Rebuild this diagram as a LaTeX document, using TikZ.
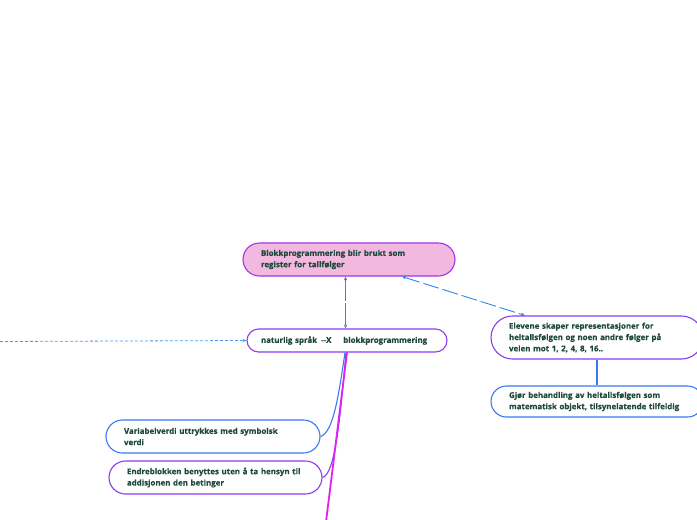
\documentclass[tikz,border=0pt]{standalone}
\usepackage{fontspec}
\setmainfont{Open Sans}[BoldFeatures={FakeBold=0.4}]
\usetikzlibrary{arrows.meta}
\definecolor{txt}{HTML}{1E4A3A}
\definecolor{pinkfill}{HTML}{F2B8E0}
\definecolor{topborder}{HTML}{A334E6}
\definecolor{purp}{HTML}{8A3CF0}
\definecolor{blu}{HTML}{3B78F2}
\definecolor{linkblue}{HTML}{2F86E8}
\definecolor{lightlink}{HTML}{4C9AEE}
\definecolor{mag}{HTML}{E020F0}
\begin{document}
\begin{tikzpicture}[x=1pt,y=-1pt,
  box/.style={draw, line width=1.1pt, rounded corners=#1, inner xsep=18pt, inner ysep=2pt,
    align=left, font=\fontsize{7.9}{11.3}\selectfont\bfseries, text=txt, fill=white},
  link/.style={linkblue, line width=0.9pt, -{Stealth[length=4pt,width=3.5pt]}}]
\useasboundingbox (0,0) rectangle (697,520);
\clip (0,0) rectangle (697,520);

\node[box=16.5pt, draw=topborder, fill=pinkfill, minimum width=212pt, minimum height=33pt, text width=176pt]
  (top) at (349,259.5) {Blokkprogrammering blir brukt som\\register for tallfølger};
\node[box=11.5pt, draw=purp, minimum width=200pt, minimum height=23pt, text width=172pt, inner xsep=12pt]
  (mid) at (347,340.5) {naturlig språk\hspace{0.5em}-{}-X\hspace{1.5em}blokkprogrammering};
\node[box=21.5pt, draw=purp, minimum width=212pt, minimum height=43pt, text width=176pt]
  (r1) at (597,337.5) {Elevene skaper representasjoner for\\heltallsfølgen og noen andre følger på\\veien mot 1, 2, 4, 8, 16..};
\node[box=15.5pt, draw=blu, minimum width=212pt, minimum height=31pt, text width=176pt]
  (r2) at (597,401.5) {Gjør behandling av heltallsfølgen som\\matematisk objekt, tilsynelatende tilfeldig};
\node[box=16.5pt, draw=blu, minimum width=214pt, minimum height=33pt, text width=178pt]
  (l1) at (213,436.5) {Variabelverdi uttrykkes med symbolsk\\verdi};
\node[box=16.5pt, draw=purp, minimum width=213pt, minimum height=33pt, text width=177pt]
  (l2) at (215.5,477.5) {Endreblokken benyttes uten å ta hensyn til\\addisjonen den betinger};

\coordinate (west) at (0,341.5);
\coordinate (down) at (326,522);

% dashed incoming arrow
\draw[link, lightlink, dash pattern=on 3pt off 2pt, line width=0.8pt] (west) -- (mid.west);
% top <-> mid
\draw[link, {Stealth[length=4pt,width=3.5pt]}-{Stealth[length=4pt,width=3.5pt]}, dash pattern=on 22pt off 2pt]
  (top.south -| mid.north) ++(-1.5,0) coordinate (a1) -- (mid.north -| a1);
% top <-> r1
\draw[link, {Stealth[length=4pt,width=3.5pt]}-{Stealth[length=4pt,width=3.5pt]}, dash pattern=on 16pt off 4pt]
  ([xshift=53pt]top.south) -- ([xshift=-72pt]r1.north);
% r1 -- r2
\draw[blu, line width=1.2pt] (r1.south) -- (r2.north);
% curves from mid bottom
\draw[blu, line width=1.1pt] ([xshift=-2pt]mid.south) .. controls (338,400) and (333,432) .. (l1.east);
\draw[purp, line width=1.1pt] ([xshift=-1pt]mid.south) .. controls (340,420) and (335,474) .. (l2.east);
\draw[mag, line width=1.8pt] (mid.south) -- (down);
\end{tikzpicture}
\end{document}
